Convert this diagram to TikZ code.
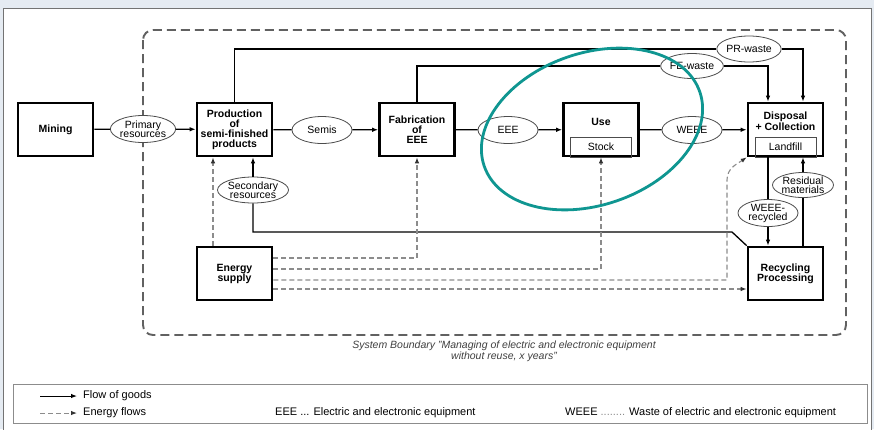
\documentclass[tikz,border=0pt]{standalone}
\usepackage{fontspec}
\setmainfont{Liberation Sans}
\usetikzlibrary{calc,arrows.meta,shapes.geometric}

\begin{document}
\begin{tikzpicture}[x=1pt, y=-1pt,
  box/.style={draw, line width=2.6pt, minimum width=75pt, minimum height=53pt, inner sep=1pt, align=center, font=\fontsize{10.5}{10}\selectfont\bfseries},
  title/.style={inner sep=0pt, align=center, font=\fontsize{10.5}{11}\selectfont\bfseries},
  ell/.style={ellipse, draw=black!70, fill=white, line width=0.8pt, minimum width=60pt, minimum height=27pt, inner sep=0pt, align=center, font=\fontsize{10.5}{9}\selectfont},
  inbox/.style={draw=black!70, line width=0.8pt, minimum width=61pt, minimum height=20pt, inner sep=0pt, anchor=south, font=\fontsize{10.5}{10}\selectfont},
  link/.style={draw, line width=1.3pt},
  flow/.style={link, -{Latex[length=6pt,width=4.5pt]}},
  eflow/.style={draw=black!45, line width=1.1pt, dash pattern=on 5pt off 3pt, -{Latex[length=6pt,width=4.5pt,color=black!80]}},
  legtext/.style={anchor=west, inner sep=0pt, font=\fontsize{11}{11}\selectfont}]

%─────────────
% Controls
%─────────────
\def\boxoff{17.5}  % offset of the side arrows at Disposal / Recycling
\definecolor{bgblue}{rgb}{0.90,0.92,0.95}   % frame around the panel
\definecolor{markteal}{rgb}{0.06,0.59,0.57} % highlight ellipse

%─────────────
% Panel and system boundary
%─────────────
\useasboundingbox (0,0) rectangle (874,429);
\fill[bgblue] (0,0) rectangle (874,429);
\filldraw[fill=white, draw=black!55, line width=0.8pt] (3,8) rectangle (871,432);
\draw[black!62, line width=1.9pt, dash pattern=on 9pt off 5pt, rounded corners=10pt]
  (143,30) rectangle (846,335);

%─────────────
% Processes
%─────────────
\node[box] (mining) at (55.5,129.5) {Mining};
\node[box] (prod) at (234.5,129.5) {Production\\of\\semi-finished\\products};
\node[box] (fab) at (417,129.5) {Fabrication\\of\\EEE};
\node[box] (use) at (601,129.5) {};
\node[title] (usetitle) at (601,122) {Use};
\node[inbox] (stock) at (use.south) {Stock};
\node[box] (disp) at (785.5,129.5) {};
\node[title] (disptitle) at (785.5,121.5) {Disposal\\+ Collection};
\node[inbox] (landfill) at (disp.south) {Landfill};
\node[box] (energy) at (234.5,273.5) {Energy\\supply};
\node[box] (recyc) at (785.5,273.5) {Recycling\\Processing};

%─────────────
% Goods
%─────────────
\node[ell] (prim) at (143,129) {Primary\\resources};
\node[ell] (semis) at (322,130) {Semis};
\node[ell] (eee) at (508,130) {EEE};
\node[ell] (weee) at (692,130) {WEEE};
\node[ell, minimum width=62pt, minimum height=26pt] (prw) at (749,49) {PR-waste};
\node[ell, minimum height=25pt] (few) at (692,66) {FE-waste};
\node[ell, minimum width=61pt, minimum height=26pt] (sec) at (253,190) {Secondary\\resources};
\node[ell, minimum height=27pt] (weeer) at (768,213) {WEEE-\\recycled};
\node[ell, minimum width=61pt, minimum height=25pt] (resid) at (803,185) {Residual\\materials};

%─────────────
% Flow of goods
%─────────────
\draw[link] (mining) -- (prim);
\draw[flow] (prim) -- (prod);
\draw[link] (prod) -- (semis);
\draw[flow] (semis) -- (fab);
\draw[link] (fab) -- (eee);
\draw[flow] (eee) -- (use);
\draw[link] (use) -- (weee);
\draw[flow] (weee) -- (disp);

% wastes from production and fabrication
\draw[link] (prod.north) |- (prw.west);
\draw[flow] (prw.east) -| ($(disp.north)+(\boxoff,0)$);
\draw[link] (fab.north) |- (few.west);
\draw[flow] (few.east) -| ($(disp.north)+(-\boxoff,0)$);

% recycling loop
\draw[link] ($(disp.south)+(-\boxoff,0)$) -- (weeer.north);
\draw[flow] (weeer.south) -- ($(recyc.north)+(-\boxoff,0)$);
\draw[link] ($(recyc.north)+(\boxoff,0)$) -- (resid.south);
\draw[flow] (resid.north) -- ($(disp.south)+(\boxoff,0)$);
\coordinate (bend) at (732,232);
\draw[link] (recyc.north west) -- (bend) -| (sec.south);
\draw[flow] (sec.north) -- (sec.north |- prod.south);

%─────────────
% Energy flows
%─────────────
\draw[eflow] ($(energy.north)+(-21.5,0)$) -- ($(prod.south)+(-21.5,0)$);
\draw[eflow] ($(energy.east)+(0,-15.5)$) -| (fab.south);
\draw[eflow] ($(energy.east)+(0,-4.5)$) -| (use.south);
\coordinate (ecurve) at (727,180);
\draw[eflow] ($(energy.east)+(0,6.5)$) -| (ecurve)
  .. controls (727,168) and (737,164) .. (disp.south west);
\draw[eflow] ($(energy.east)+(0,15.5)$) -- ($(recyc.west)+(0,15.5)$);

%─────────────
% Caption and legend
%─────────────
\node[align=center, text=black!75, font=\fontsize{10.5}{11}\selectfont\itshape] (caption) at (504,351)
  {System Boundary "Managing of electric and electronic equipment\\without reuse, x years"};

\draw[black!45, line width=1pt] (13,384) rectangle (867,423);
\coordinate (lga) at (40,396);
\coordinate (lgb) at (77,396);
\coordinate (lgc) at (40,413);
\coordinate (lgd) at (77,413);
\draw[flow, line width=1pt] (lga) -- (lgb);
\draw[eflow, line width=1pt] (lgc) -- (lgd);
\node[legtext] (goods) at (83,396) {Flow of goods};
\node[legtext] (energyflows) at (83,413) {Energy flows};
\node[legtext] (eeelegend) at (275,413) {EEE ... Electric and electronic equipment};
\node[legtext] (weeelegend) at (565,413) {WEEE {\color{black!45}........} Waste of electric and electronic equipment};

%─────────────
% Highlight
%─────────────
\node[ellipse, draw=markteal, line width=2.8pt, minimum width=228pt, minimum height=152pt, inner sep=0pt, rotate=19] (focus) at (592,129) {};

\end{tikzpicture}
\end{document}
